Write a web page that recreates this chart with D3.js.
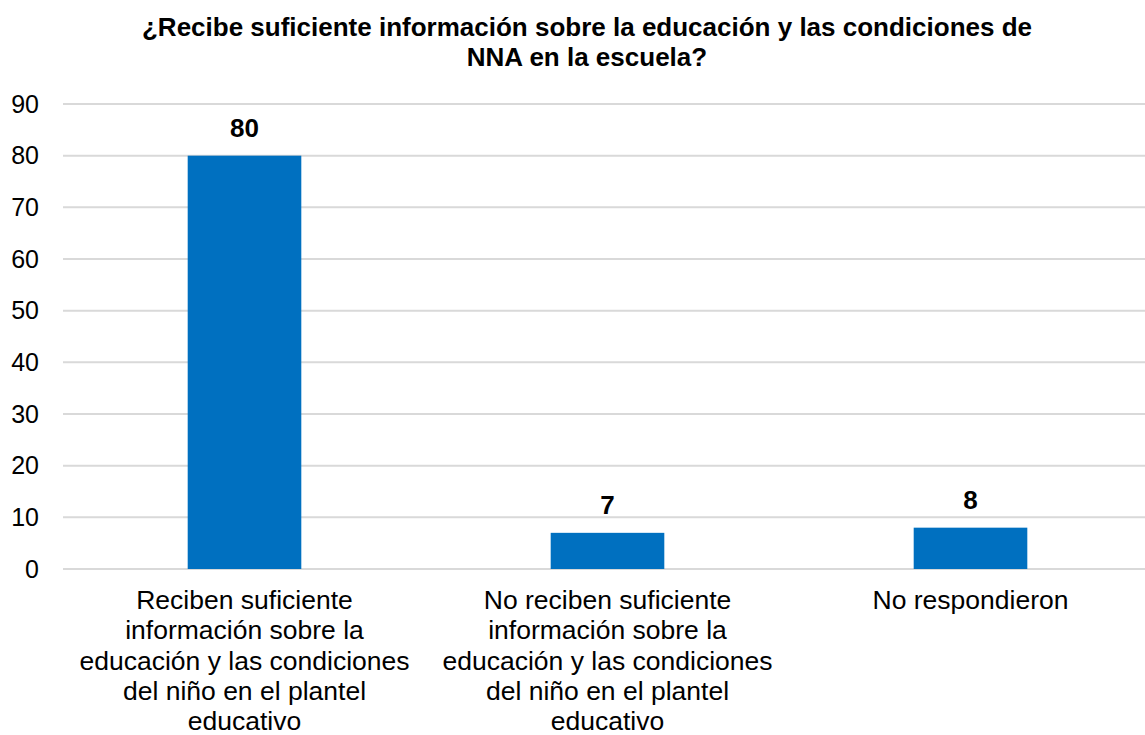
<!DOCTYPE html>
<html>
<head>
<meta charset="utf-8">
<script src="https://cdn.jsdelivr.net/npm/d3@7"></script>
<style>
  html, body { margin: 0; padding: 0; background: #fff; }
  svg { display: block; font-family: "Liberation Sans", Arial, sans-serif; }
</style>
</head>
<body>
<svg id="chart" width="1145" height="735"></svg>
<script>
const titleLines = [
  "¿Recibe suficiente información sobre la educación y las condiciones de",
  "NNA en la escuela?"
];
const categories = ["si", "no", "nr"];
const categoryLabels = [
  ["Reciben suficiente", "información sobre la", "educación y las condiciones", "del niño en el plantel", "educativo"],
  ["No reciben suficiente", "información sobre la", "educación y las condiciones", "del niño en el plantel", "educativo"],
  ["No respondieron"]
];
const values = [80, 7, 8];
const yTicks = [0, 10, 20, 30, 40, 50, 60, 70, 80, 90];

const svg = d3.select("#chart");
const W = 1145;

const x = d3.scaleBand()
  .domain(categories)
  .range([63, 1152])
  .paddingInner(0.687)
  .paddingOuter(0.3435);

const y = d3.scaleLinear().domain([0, 90]).range([569, 104]);

// title
svg.append("g").selectAll("text")
  .data(titleLines)
  .join("text")
  .attr("x", 587)
  .attr("y", (d, i) => 36 + i * 29.5)
  .attr("text-anchor", "middle")
  .attr("font-size", 26)
  .attr("font-weight", "bold")
  .attr("fill", "#000")
  .text(d => d);

// gridlines
svg.append("g").selectAll("line")
  .data(yTicks)
  .join("line")
  .attr("x1", 63)
  .attr("x2", W)
  .attr("y1", d => y(d))
  .attr("y2", d => y(d))
  .attr("stroke", "#d9d9d9")
  .attr("stroke-width", 2);

// y axis labels
const yAxis = d3.axisLeft(y).tickValues(yTicks).tickSize(0).tickPadding(0);
const gy = svg.append("g").attr("transform", "translate(39,0)").call(yAxis);
gy.select(".domain").remove();
gy.selectAll("text")
  .attr("font-size", 25)
  .attr("font-family", "'Liberation Sans', Arial, sans-serif")
  .attr("fill", "#000");

// bars
svg.append("g").selectAll("rect")
  .data(values)
  .join("rect")
  .attr("x", (d, i) => x(categories[i]))
  .attr("width", x.bandwidth())
  .attr("y", d => y(d))
  .attr("height", d => y(0) - y(d))
  .attr("fill", "#0070c0");

// value labels
svg.append("g").selectAll("text")
  .data(values)
  .join("text")
  .attr("x", (d, i) => x(categories[i]) + x.bandwidth() / 2)
  .attr("y", d => y(d) - 19)
  .attr("text-anchor", "middle")
  .attr("font-size", 26)
  .attr("font-weight", "bold")
  .attr("fill", "#000")
  .text(d => d);

// category labels
const gx = svg.append("g");
categoryLabels.forEach((lines, i) => {
  const cx = x(categories[i]) + x.bandwidth() / 2;
  gx.append("text")
    .attr("x", cx)
    .attr("text-anchor", "middle")
    .attr("font-size", 26.5)
    .attr("fill", "#000")
    .selectAll("tspan")
    .data(lines)
    .join("tspan")
    .attr("x", cx)
    .attr("y", (d, j) => 609 + j * 30.3)
    .text(d => d);
});
</script>
</body>
</html>
